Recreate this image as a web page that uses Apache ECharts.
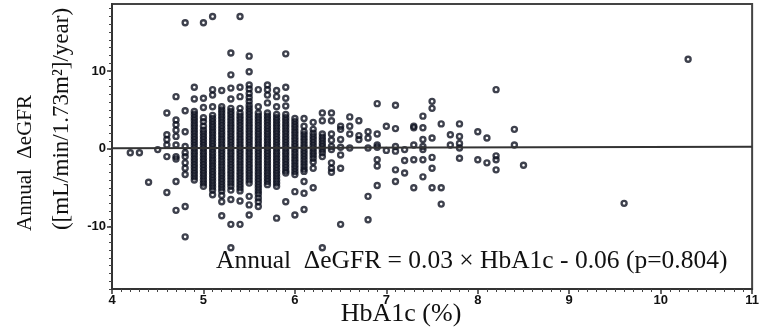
<!DOCTYPE html>
<html>
<head>
<meta charset="utf-8">
<script src="https://cdn.jsdelivr.net/npm/echarts@6/dist/echarts.min.js"></script>
<style>
html,body{margin:0;padding:0;background:#fff;}
#chart{width:762px;height:328px;}
</style>
</head>
<body>
<div id="chart"></div>
<script>
// ---- data ----
const xTickLabels = [4, 5, 6, 7, 8, 9, 10, 11];
const yTickLabels = [-10, 0, 10];
const yMinorTicks = [-18,-17,-16,-15,-14,-13,-12,-11,-10,-9,-8,-7,-6,-5,-4,-3,-2,-1,0,1,2,3,4,5,6,7,8,9,10,11,12,13,14,15,16,17,18];
const hba1cLevels = [4.2, 4.3, 4.4, 4.5, 4.6, 4.7, 4.8, 4.9, 5.0, 5.1, 5.2, 5.3, 5.4, 5.5, 5.6, 5.7, 5.8, 5.9, 6.0, 6.1, 6.2, 6.3, 6.4, 6.5, 6.6, 6.7, 6.8, 6.9, 7.0, 7.1, 7.2, 7.3, 7.4, 7.5, 7.6, 7.7, 7.8, 8.0, 8.1, 8.2, 8.4, 8.5, 9.6, 10.3];
const egfrByLevel = [
  [-0.5],
  [-0.5],
  [-4.3],
  [-0.1],
  [4.6, 1.8, 1.2, 0.5, -1.0, -5.6],
  [6.7, 3.7, 3.1, 2.4, 1.6, 0.5, -1.0, -1.3, -4.2, -7.9],
  [16.2, 4.9, 2.2, 0.3, -0.5, -1.0, -1.8, -2.5, -3.3, -7.4, -11.3],
  [7.9, 6.4, 4.8, 4.4, 4.0, 3.6, 3.2, 2.8, 2.4, 2.0, 1.6, 1.2, 0.8, 0.4, 0.0, -0.4, -0.8, -1.2, -1.6, -2.0, -2.4, -2.8, -3.2, -3.6, -4.0],
  [16.2, 6.5, 5.3, 4.0, 3.5, 2.9, 2.4, 2.0, 1.6, 1.2, 0.8, 0.4, 0.0, -0.4, -0.8, -1.2, -1.6, -2.0, -2.4, -2.8, -3.2, -3.6, -4.0, -4.4, -4.8],
  [17.0, 7.6, 6.9, 5.4, 4.3, 3.9, 3.5, 3.1, 2.7, 2.3, 1.9, 1.5, 1.1, 0.7, 0.3, -0.1, -0.5, -0.9, -1.3, -1.7, -2.1, -2.5, -2.9, -3.3, -3.7, -4.1, -4.5, -4.9, -5.3, -5.9],
  [7.5, 5.4, 5.0, 4.6, 4.2, 3.8, 3.4, 3.0, 2.6, 2.2, 1.8, 1.4, 1.0, 0.6, 0.2, -0.2, -0.6, -1.0, -1.4, -1.8, -2.2, -2.6, -3.0, -3.4, -3.8, -4.2, -4.6, -5.0, -5.4, -6.0, -6.8, -8.6],
  [12.3, 9.5, 7.8, 6.4, 5.2, 4.8, 4.4, 4.0, 3.6, 3.2, 2.8, 2.4, 2.0, 1.6, 1.2, 0.8, 0.4, 0.0, -0.4, -0.8, -1.2, -1.6, -2.0, -2.4, -2.8, -3.2, -3.6, -4.0, -4.4, -4.8, -5.3, -6.5, -9.7, -12.7],
  [17.0, 7.9, 6.7, 5.2, 4.6, 4.2, 3.8, 3.4, 3.0, 2.6, 2.2, 1.8, 1.4, 1.0, 0.6, 0.2, -0.2, -0.6, -1.0, -1.4, -1.8, -2.2, -2.6, -3.0, -3.4, -3.8, -4.2, -4.6, -5.0, -5.4, -6.7, -9.7],
  [11.9, 9.9, 8.2, 7.7, 7.1, 6.6, 6.1, 5.6, 5.2, 4.8, 4.4, 4.0, 3.6, 3.2, 2.8, 2.4, 2.0, 1.6, 1.2, 0.8, 0.4, 0.0, -0.4, -0.8, -1.2, -1.6, -2.0, -2.4, -2.8, -3.2, -3.6, -4.0, -4.4, -6.1, -7.2, -8.5],
  [7.6, 5.4, 4.6, 4.2, 3.8, 3.4, 3.0, 2.6, 2.2, 1.8, 1.4, 1.0, 0.6, 0.2, -0.2, -0.6, -1.0, -1.4, -1.8, -2.2, -2.6, -3.0, -3.4, -3.8, -4.2, -4.6, -5.0, -5.4, -5.8, -6.3, -6.8, -7.4],
  [8.2, 7.6, 6.9, 5.9, 4.6, 4.2, 3.8, 3.4, 3.0, 2.6, 2.2, 1.8, 1.4, 1.0, 0.6, 0.2, -0.2, -0.6, -1.0, -1.4, -1.8, -2.2, -2.6, -3.0, -3.4, -3.8, -4.2, -4.6],
  [7.5, 6.7, 5.4, 4.4, 4.0, 3.6, 3.2, 2.8, 2.4, 2.0, 1.6, 1.2, 0.8, 0.4, 0.0, -0.4, -0.8, -1.2, -1.6, -2.0, -2.4, -2.8, -3.2, -3.6, -4.0, -4.4, -4.8, -8.9],
  [12.2, 7.9, 6.5, 5.5, 4.4, 4.0, 3.6, 3.2, 2.8, 2.4, 2.0, 1.6, 1.2, 0.8, 0.4, 0.0, -0.4, -0.8, -1.2, -1.6, -2.0, -2.4, -2.8, -3.1, -6.8],
  [3.9, 3.5, 3.1, 2.7, 2.3, 1.9, 1.5, 1.1, 0.7, 0.3, -0.1, -0.5, -0.9, -1.3, -1.7, -2.1, -2.5, -2.9, -3.3, -5.5, -8.5],
  [3.9, 2.9, 2.2, 1.8, 1.4, 1.0, 0.6, 0.2, -0.2, -0.6, -1.0, -1.4, -1.8, -2.2, -2.6, -2.9, -4.2, -5.7, -7.8],
  [3.4, 2.5, 2.0, 1.6, 1.2, 0.8, 0.4, 0.0, -0.4, -0.8, -1.2, -1.7, -2.5, -5.0],
  [4.6, 3.6, 1.9, 1.5, 1.1, 0.7, 0.3, -0.1, -0.5, -1.0, -12.7],
  [4.6, 3.6, 1.9, 1.1, 0.3, -0.1, -1.8, -2.5, -3.0],
  [2.9, 2.5, 1.2, 0.2, -0.8, -2.5, -9.7],
  [4.1, 2.9, 1.9, 0.1],
  [3.6, 1.7, 1.2],
  [2.2, 1.4, 0.1, -6.1, -9.1],
  [5.8, 1.9, 0.5, 0.2, -1.4, -2.2, -4.7],
  [2.9, -0.2],
  [5.6, 2.6, 0.3, -0.3, -2.7, -4.2],
  [-0.1, -1.5, -3.1],
  [2.9, 2.7, 0.5, -1.4, -5.0],
  [4.2, 2.7, 1.2, 0.3, -0.1, -1.4, -3.6],
  [6.1, 5.2, 1.4, -1.1, -2.5, -5.0],
  [3.2, -5.0, -7.1],
  [1.8, 0.5],
  [3.2, 1.6, 0.7, 0.1, -1.2],
  [2.2, -1.4],
  [1.4, -1.8],
  [7.6, -0.9, -1.4, -2.7],
  [2.5, 0.5],
  [-2.1],
  [-7.0],
  [11.5]
];
const regSlope = 0.03;
const regIntercept = -0.06;
const regRange = [4, 11];
const annotationText = 'Annual  \u0394eGFR = 0.03 \u00D7 HbA1c - 0.06 (p=0.804)';
const yTitle1 = 'Annual  \u0394eGFR';
const yTitle2 = '([mL/min/1.73m\u00B2]/year)';
const xTitle = 'HbA1c (%)';

// ---- build ----
const points = [];
hba1cLevels.forEach((h, i) => egfrByLevel[i].forEach(v => points.push([h, v])));
const regLine = regRange.map(x => [x, regSlope * x + regIntercept]);

const chart = echarts.init(document.getElementById('chart'), null, {renderer: 'canvas'});
const ink = '#0e1220';
const labelFont = {fontFamily: '"Liberation Sans", Arial, sans-serif', fontWeight: 'bold', fontSize: 13, color: '#111'};
const serif = '"Liberation Serif", "Times New Roman", serif';

chart.setOption({
  animation: false,
  backgroundColor: '#fff',
  grid: {left: 112, top: 4, width: 645, height: 285, show: true, borderColor: '#444', borderWidth: 2, backgroundColor: 'transparent'},
  xAxis: {
    type: 'value', min: 4, max: 11, interval: 1,
    axisLine: {show: true, onZero: false, lineStyle: {color: '#333', width: 2}},
    axisTick: {show: true, inside: false, length: 5, lineStyle: {color: '#333', width: 1.5}},
    minorTick: {show: true, splitNumber: 10, length: 3, lineStyle: {color: '#444', width: 1}},
    splitLine: {show: false},
    axisLabel: Object.assign({margin: 5, formatter: v => xTickLabels.includes(v) ? String(v) : ''}, labelFont)
  },
  yAxis: [
    {
      type: 'value', min: -18, max: 18.6,
      axisLine: {show: true, onZero: false, lineStyle: {color: '#333', width: 2}},
      axisTick: {show: true, inside: false, length: 5, customValues: yTickLabels, lineStyle: {color: '#333', width: 1.5}},
      axisLabel: Object.assign({margin: 6, customValues: yTickLabels}, labelFont),
      splitLine: {show: false}
    },
    {
      type: 'value', min: -18, max: 18.6, position: 'left',
      axisLine: {show: false},
      axisTick: {show: true, inside: false, length: 3, customValues: yMinorTicks, lineStyle: {color: '#444', width: 1}},
      axisLabel: {show: false},
      splitLine: {show: false}
    }
  ],
  series: [
    {
      type: 'scatter', data: points, symbol: 'circle', symbolSize: 5,
      itemStyle: {color: 'rgba(255,255,255,0)', borderColor: ink, borderWidth: 2.4},
      z: 2
    },
    {
      type: 'line', data: regLine, symbol: 'none', silent: true,
      lineStyle: {color: '#333', width: 2}, z: 3
    }
  ],
  graphic: [
    {type: 'text', x: 25, y: 163, rotation: Math.PI / 2,
     style: {text: yTitle1, font: '21px ' + serif, fill: '#111', textAlign: 'center', textVerticalAlign: 'middle'}},
    {type: 'text', x: 62, y: 119, rotation: Math.PI / 2,
     style: {text: yTitle2, font: '23px ' + serif, fill: '#111', textAlign: 'center', textVerticalAlign: 'middle'}},
    {type: 'text', x: 401, y: 314,
     style: {text: xTitle, font: '26px ' + serif, fill: '#111', textAlign: 'center', textVerticalAlign: 'middle'}},
    {type: 'text', x: 216, y: 261,
     style: {text: annotationText, font: '25.5px ' + serif, fill: '#111', textAlign: 'left', textVerticalAlign: 'middle'}}
  ]
});
</script>
</body>
</html>
